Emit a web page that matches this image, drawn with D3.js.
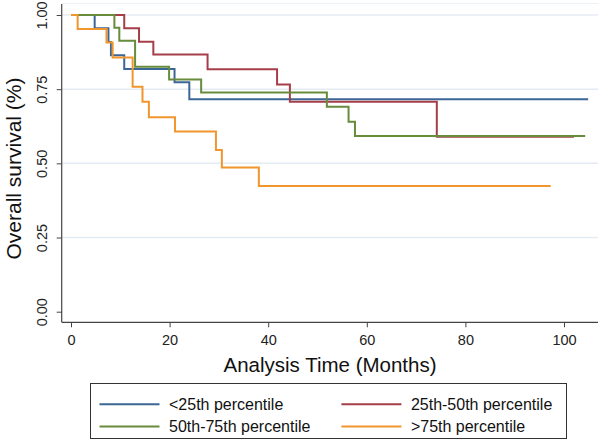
<!DOCTYPE html>
<html><head><meta charset="utf-8">
<script src="https://cdn.jsdelivr.net/npm/d3@7/dist/d3.min.js"></script>
<style>body{margin:0;background:#fff}svg{display:block;font-family:"Liberation Sans",Arial,Helvetica,sans-serif}</style>
</head><body><svg id="c" width="598" height="441"></svg>
<script>
const seriesNames = ["<25th percentile","25th-50th percentile","50th-75th percentile",">75th percentile"];
const seriesColors = ["#3b6696","#a63e4a","#668c3c","#f0962d"];
const blueTimes = [0, 4.8, 7.6, 8.1, 10.8, 21.0, 24.0, 104.9];
const blueSurv  = [1, 0.955, 0.909, 0.864, 0.818, 0.773, 0.716, 0.716];
const redTimes  = [0, 10.8, 13.8, 16.7, 27.7, 41.8, 44.4, 74.2, 102.0];
const redSurv   = [1, 0.955, 0.910, 0.867, 0.817, 0.766, 0.708, 0.590, 0.590];
const greenTimes= [0, 8.8, 9.8, 13.0, 19.9, 26.4, 51.9, 56.3, 57.6, 104.3];
const greenSurv = [1, 0.957, 0.913, 0.826, 0.783, 0.739, 0.691, 0.640, 0.592, 0.592];
const orangeTimes=[0, 1.35, 7.2, 8.45, 12.5, 14.5, 15.8, 21.1, 29.4, 30.6, 38.1, 97.3];
const orangeSurv= [1, 0.953, 0.907, 0.857, 0.758, 0.708, 0.655, 0.607, 0.545, 0.486, 0.424, 0.424];
const xTicks = [0,20,40,60,80,100];
const yTicks = [0,0.25,0.5,0.75,1];
const xTitle = "Analysis Time (Months)";
const yTitle = "Overall survival (%)";

const series = [[blueTimes,blueSurv],[redTimes,redSurv],[greenTimes,greenSurv],[orangeTimes,orangeSurv]];
const svg = d3.select("#c");
const x = d3.scaleLinear().domain([0,100]).range([71,564]);
const y = d3.scaleLinear().domain([0,1]).range([311.7,15]);
const axisY = 322.3, axisX = 61.7;

// grid
svg.append("g").selectAll("line").data(yTicks.filter(d=>d>0)).join("line")
  .attr("x1",axisX).attr("x2",598).attr("y1",d=>y(d)).attr("y2",d=>y(d))
  .attr("stroke","#e4ecf3").attr("stroke-width",1.5);
svg.append("line").attr("x1",axisX).attr("x2",598).attr("y1",3.5).attr("y2",3.5)
  .attr("stroke","#edf2f6").attr("stroke-width",1.2);

// axes
const gx = svg.append("g").attr("transform",`translate(0,${axisY})`)
  .call(d3.axisBottom(x).tickValues(xTicks).tickSize(5).tickPadding(7).tickFormat(d3.format("d")));
gx.select(".domain").remove();
gx.selectAll("line").attr("stroke","#444");
gx.selectAll("text").attr("font-size",14.5).attr("fill","#222").attr("font-family","inherit");
svg.append("line").attr("x1",axisX).attr("x2",598).attr("y1",axisY).attr("y2",axisY).attr("stroke","#444").attr("stroke-width",1.2);

const gy = svg.append("g").attr("transform",`translate(${axisX},0)`)
  .call(d3.axisLeft(y).tickValues(yTicks).tickSize(5).tickFormat(d3.format(".2f")));
gy.select(".domain").remove();
gy.selectAll("line").attr("stroke","#444");
gy.selectAll("text").attr("font-size",14.5).attr("fill","#222").attr("font-family","inherit")
  .attr("x",null).attr("dy",null).attr("text-anchor","middle")
  .attr("transform","translate(-15,0) rotate(-90)");
svg.append("line").attr("x1",axisX).attr("x2",axisX).attr("y1",4).attr("y2",axisY).attr("stroke","#444").attr("stroke-width",1.2);

// curves
const line = d3.line().curve(d3.curveStepAfter).x(d=>x(d[0])).y(d=>y(d[1]));
series.forEach((s,i)=>{
  const pts = s[0].map((t,j)=>[t,s[1][j]]);
  svg.append("path").attr("d",line(pts)).attr("fill","none")
    .attr("stroke",seriesColors[i]).attr("stroke-width",2);
});

// titles
svg.append("text").attr("x",330).attr("y",372).attr("text-anchor","middle")
  .attr("font-size",20.5).attr("fill","#111").text(xTitle);
svg.append("text").attr("transform",`translate(21,${(15+322)/2}) rotate(-90)`).attr("text-anchor","middle")
  .attr("font-size",21).attr("fill","#111").text(yTitle);

// legend
svg.append("rect").attr("x",90.5).attr("y",383.5).attr("width",476).attr("height",55)
  .attr("fill","#fff").attr("stroke","#333").attr("stroke-width",1);
const legPos = [[99.5,404.3],[341.4,404.3],[99.5,426.6],[341.4,426.6]];
seriesNames.forEach((n,i)=>{
  const [lx,ly]=legPos[i];
  svg.append("line").attr("x1",lx).attr("x2",lx+60).attr("y1",ly).attr("y2",ly)
    .attr("stroke",seriesColors[i]).attr("stroke-width",2);
  svg.append("text").attr("x",lx+69.5).attr("y",ly).attr("dy","0.35em")
    .attr("font-size",16).attr("fill","#111").text(n);
});
</script></body></html>
